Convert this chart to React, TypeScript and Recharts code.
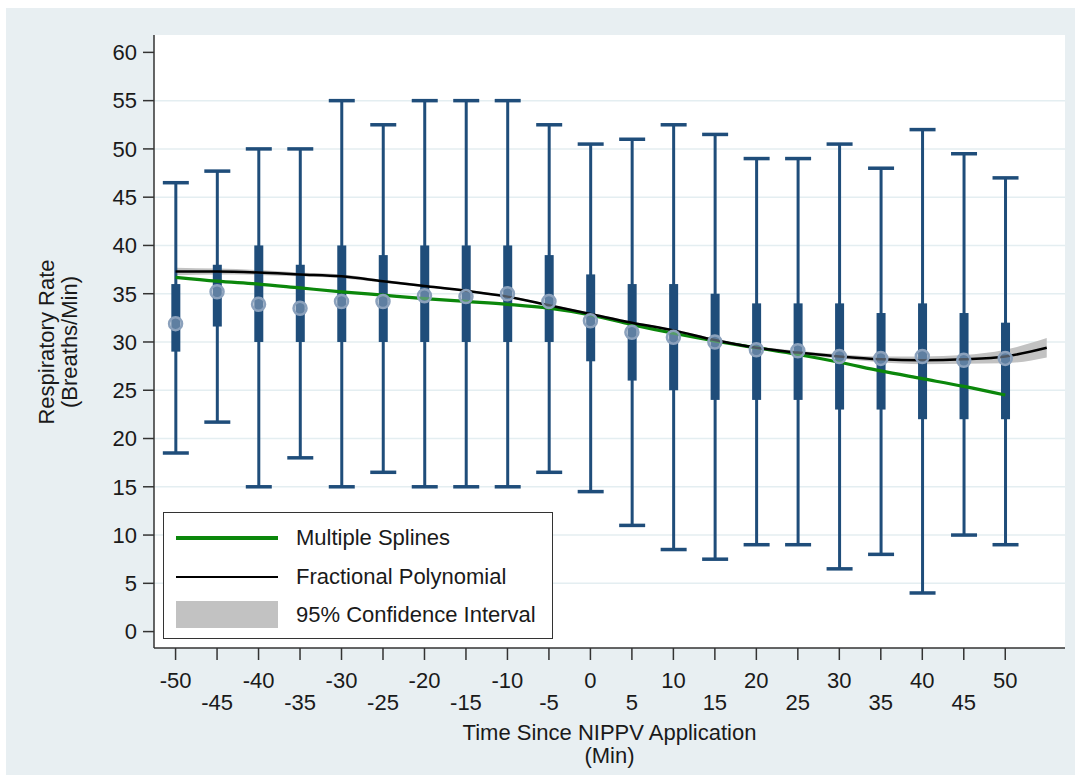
import React from "react";
import { ComposedChart, Bar, Line, Area, Scatter, XAxis, YAxis, CartesianGrid } from "recharts";

// time points (min) with a box each
const times = [-50, -45, -40, -35, -30, -25, -20, -15, -10, -5, 0, 5, 10, 15, 20, 25, 30, 35, 40, 45, 50];
const whiskerMin = [18.5, 21.7, 15, 18, 15, 16.5, 15, 15, 15, 16.5, 14.5, 11, 8.5, 7.5, 9, 9, 6.5, 8, 4, 10, 9];
const whiskerMax = [46.5, 47.7, 50, 50, 55, 52.5, 55, 55, 55, 52.5, 50.5, 51, 52.5, 51.5, 49, 49, 50.5, 48, 52, 49.5, 47];
const q1 = [29, 31.6, 30, 30, 30, 30, 30, 30, 30, 30, 28, 26, 25, 24, 24, 24, 23, 23, 22, 22, 22];
const q3 = [36, 38, 40, 38, 40, 39, 40, 40, 40, 39, 37, 36, 36, 35, 34, 34, 34, 33, 34, 33, 32];
const mean = [31.9, 35.2, 33.9, 33.5, 34.2, 34.2, 34.8, 34.7, 35.0, 34.2, 32.2, 31.0, 30.5, 30.0, 29.2, 29.1, 28.5, 28.3, 28.5, 28.1, 28.3];
const spline = [36.7, 36.3, 36.0, 35.6, 35.2, 34.85, 34.5, 34.2, 33.9, 33.5, 32.8, 31.8, 30.9, 30.1, 29.4, 28.7, 27.9, 27.0, 26.2, 25.4, 24.5];

// fractional polynomial fit runs a bit past the last box
const fpTimes = [-50, -45, -40, -35, -30, -25, -20, -15, -10, -5, 0, 5, 10, 15, 20, 25, 30, 35, 40, 45, 50, 55];
const fpFit = [37.3, 37.3, 37.2, 37.0, 36.8, 36.3, 35.8, 35.3, 34.7, 33.8, 32.9, 32.0, 31.2, 30.2, 29.4, 28.9, 28.5, 28.2, 28.1, 28.2, 28.5, 29.4];
const ciLow = [36.9, 37.0, 36.95, 36.8, 36.6, 36.15, 35.67, 35.18, 34.58, 33.68, 32.78, 31.88, 31.08, 30.07, 29.25, 28.72, 28.28, 27.9, 27.7, 27.75, 27.8, 28.4];
const ciHigh = [37.7, 37.6, 37.45, 37.2, 37.0, 36.45, 35.93, 35.42, 34.82, 33.92, 33.02, 32.12, 31.32, 30.33, 29.55, 29.08, 28.72, 28.5, 28.5, 28.65, 29.2, 30.4];

const xTicks = [-50, -45, -40, -35, -30, -25, -20, -15, -10, -5, 0, 5, 10, 15, 20, 25, 30, 35, 40, 45, 50];
const yTicks = [0, 5, 10, 15, 20, 25, 30, 35, 40, 45, 50, 55, 60];
const gridValues = [5, 10, 15, 20, 25, 30, 35, 40, 45, 50, 55];

const BOX = "#1f4d7a";
const FONT = "'Liberation Sans', Arial, sans-serif";
const FS = 22;

const rows = fpTimes.map((t, i) => {
    const j = times.indexOf(t);
    return {
        x: t,
        fp: fpFit[i],
        ci: [ciLow[i], ciHigh[i]],
        spline: j >= 0 ? spline[j] : null,
        range: j >= 0 ? [whiskerMin[j], whiskerMax[j]] : null,
        q1: j >= 0 ? q1[j] : null,
        q3: j >= 0 ? q3[j] : null,
        mean: j >= 0 ? mean[j] : null,
    };
});

// whiskers + box, positioned from the bar's min..max range
const BoxShape = (props: any) => {
    const { x, y, width, height, payload } = props;
    if (!payload || !payload.range || !height) return null;
    const [lo, hi] = payload.range;
    const k = height / (hi - lo);
    const yOf = (v: number) => y + (hi - v) * k;
    const cx = x + width / 2;
    const bw = 9;
    return (
        <g>
            <line x1={cx} x2={cx} y1={yOf(hi)} y2={yOf(lo)} stroke={BOX} strokeWidth={3} />
            <line x1={cx - 13} x2={cx + 13} y1={yOf(hi)} y2={yOf(hi)} stroke={BOX} strokeWidth={3.5} />
            <line x1={cx - 13} x2={cx + 13} y1={yOf(lo)} y2={yOf(lo)} stroke={BOX} strokeWidth={3.5} />
            <rect x={cx - bw / 2} y={yOf(payload.q3)} width={bw} height={yOf(payload.q1) - yOf(payload.q3)} fill={BOX} />
        </g>
    );
};

const MeanDot = (props: any) => {
    const { cx, cy, payload } = props;
    if (!payload || payload.mean == null) return null;
    return <circle cx={cx} cy={cy} r={6.5} fill="rgba(160,178,200,0.5)" stroke="#8ba1bc" strokeWidth={2.5} />;
};

const XTick = (props: any) => {
    const { x, y, payload } = props;
    const low = payload.value % 10 !== 0;
    return (
        <text x={x} y={y} dy={low ? 47.5 : 26} textAnchor="middle" fontSize={FS} fill="#1a1a1a" fontFamily={FONT}>
            {payload.value}
        </text>
    );
};

export default function App() {
    return (
        <div style={{ position: "absolute", left: 0, top: 0, width: 1081, height: 783, background: "#fff", fontFamily: FONT }}>
            <div style={{ position: "absolute", left: 6, top: 8, width: 1069, height: 767, background: "#e8eff2" }} />
            <div style={{ position: "absolute", left: 0, top: 0 }}>
                <ComposedChart width={1081} height={783} data={rows} margin={{ top: 35, right: 16, bottom: 105, left: 54 }}>
                    <CartesianGrid fill="#ffffff" fillOpacity={1} vertical={false} horizontalValues={gridValues} stroke="#e4eef1" strokeWidth={1.5} />
                    <XAxis
                        type="number"
                        dataKey="x"
                        domain={[-52.6, 57.2]}
                        ticks={xTicks}
                        interval={0}
                        allowDataOverflow
                        height={30}
                        tickSize={12}
                        tick={<XTick />}
                        axisLine={{ stroke: "#333", strokeWidth: 1.5 }}
                        tickLine={{ stroke: "#333", strokeWidth: 1.5 }}
                    />
                    <YAxis
                        type="number"
                        domain={[-1.7, 61.8]}
                        ticks={yTicks}
                        interval={0}
                        allowDataOverflow
                        width={100}
                        tickSize={11}
                        tickMargin={6}
                        tick={{ fontSize: FS, fill: "#1a1a1a" }}
                        axisLine={{ stroke: "#333", strokeWidth: 1.5 }}
                        tickLine={{ stroke: "#333", strokeWidth: 1.5 }}
                    />
                    <Area dataKey="ci" type="monotone" fill="#c2c2c2" fillOpacity={1} stroke="none" isAnimationActive={false} />
                    <Bar dataKey="range" barSize={26} shape={<BoxShape />} isAnimationActive={false} />
                    <Line dataKey="spline" type="monotone" stroke="#0b870b" strokeWidth={3.2} dot={false} isAnimationActive={false} />
                    <Line dataKey="fp" type="monotone" stroke="#000" strokeWidth={2.5} dot={false} isAnimationActive={false} />
                    <Scatter dataKey="mean" shape={<MeanDot />} isAnimationActive={false} />
                </ComposedChart>
            </div>

            {/* legend */}
            <div style={{ position: "absolute", left: 163, top: 512, width: 388, height: 125, border: "1.5px solid #333", background: "#fff" }}>
                <div style={{ position: "absolute", left: 12, top: 23, width: 102, height: 3.5, background: "#0b870b" }} />
                <div style={{ position: "absolute", left: 132, top: 12, fontSize: FS, lineHeight: "26px", color: "#1a1a1a" }}>Multiple Splines</div>
                <div style={{ position: "absolute", left: 12, top: 62.5, width: 102, height: 2.5, background: "#000" }} />
                <div style={{ position: "absolute", left: 132, top: 50.5, fontSize: FS, lineHeight: "26px", color: "#1a1a1a" }}>Fractional Polynomial</div>
                <div style={{ position: "absolute", left: 12, top: 88, width: 102, height: 27, background: "#c2c2c2" }} />
                <div style={{ position: "absolute", left: 132, top: 88.5, fontSize: FS, lineHeight: "26px", color: "#1a1a1a" }}>95% Confidence Interval</div>
            </div>

            {/* axis titles */}
            <div
                style={{
                    position: "absolute",
                    left: 58 - 200,
                    top: 341.5 - 23,
                    width: 400,
                    height: 46,
                    textAlign: "center",
                    fontSize: FS,
                    lineHeight: "23px",
                    color: "#1a1a1a",
                    transform: "rotate(-90deg)",
                    transformOrigin: "center",
                }}
            >
                Respiratory Rate
                <br />
                (Breaths/Min)
            </div>
            <div style={{ position: "absolute", left: 609.5 - 300, top: 721, width: 600, textAlign: "center", fontSize: FS, lineHeight: "23px", color: "#1a1a1a" }}>
                Time Since NIPPV Application
                <br />
                (Min)
            </div>
        </div>
    );
}
